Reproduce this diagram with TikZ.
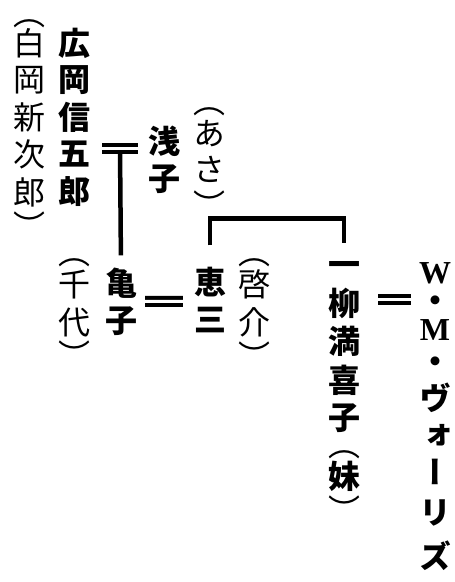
\documentclass[tikz,border=0pt]{standalone}
\usepackage{fontspec}
\newfontfamily\jpfont[RawFeature=+vert]{Noto Sans CJK JP}
\newfontfamily\romanfont{Liberation Serif}
\usepackage{tikz}
\usetikzlibrary{positioning}
\newcommand{\tate}[1]{\begin{tabular}{@{}c@{}}#1\end{tabular}}
\tikzset{
    person/.style={anchor=north, inner sep=0pt, font=\jpfont\bfseries\fontsize{32}{37}\selectfont},
    note/.style={anchor=north, inner sep=0pt, font=\jpfont\fontsize{32}{37}\selectfont},
    link/.style={line width=4.5pt},
    marriage/.style={double, double distance=3pt, line width=4pt},
}

\begin{document}
\begin{tikzpicture}[x=1pt, y=-1pt]
    \useasboundingbox (0,0) rectangle (455,582);

    % Nodes
    \node[note, font=\jpfont\fontsize{32}{36}\selectfont] (shiraoka) at (29,0) {\tate{︵\\[-7.5pt]白\\岡\\新\\次\\郎\\[-3pt]︶}};
    \node[person, font=\jpfont\bfseries\fontsize{32}{36}\selectfont] (hirooka) at (75,27.6) {\tate{広\\岡\\信\\五\\郎}};
    \node[person] (asako) at (164,125.3) {\tate{浅\\子}};
    \node[note, font=\jpfont\fontsize{32}{33}\selectfont] (asa) at (209,90.5) {\tate{︵\\[-3pt]あ\\さ\\︶}};
    \node[note] (chiyo) at (75,238.7) {\tate{︵\\[-6pt]千\\代\\[-4pt]︶}};
    \node[person] (kameko) at (121,267.3) {\tate{亀\\子}};
    \node[person] (keizo) at (210,267.3) {\tate{恵\\三}};
    \node[note] (keisuke) at (254,238.7) {\tate{︵\\[-6pt]啓\\介\\[-4pt]︶}};
    \node[person] (makiko) at (344,250.7) {\tate{一\\柳\\満\\喜\\子\\[-10pt]{\mdseries ︵}\\[-6pt]妹\\[-4pt]{\mdseries ︶}}};
    \node[person] (vories) at (435,257) {\tate{\romanfont W\\[-8pt]・\\[-9pt]\romanfont M\\[-4pt]・\\[-1pt]ヴ\\ォ\\ー\\[3pt]リ\\[5pt]ズ}};

    \coordinate (wed1) at (120,148);
    \coordinate (wed2) at (395,299);

    % Lines
    \draw[link, shorten >=12pt] (wed1) -- (kameko.north);
    \draw[marriage, shorten <=11pt, shorten >=10pt] (hirooka.east |- wed1) -- (asako.west |- wed1);
    \draw[marriage, shorten <=8pt, shorten >=11pt] ([yshift=4pt]kameko.east) -- ([yshift=4pt]keizo.west);
    \draw[link, shorten <=22pt, shorten >=8pt] (keizo.north) -- ++(0,-49) -| (makiko.north);
    \draw[marriage, shorten <=18pt, shorten >=8pt] (makiko.east |- wed2) -- (vories.west |- wed2);

\end{tikzpicture}
\end{document}
